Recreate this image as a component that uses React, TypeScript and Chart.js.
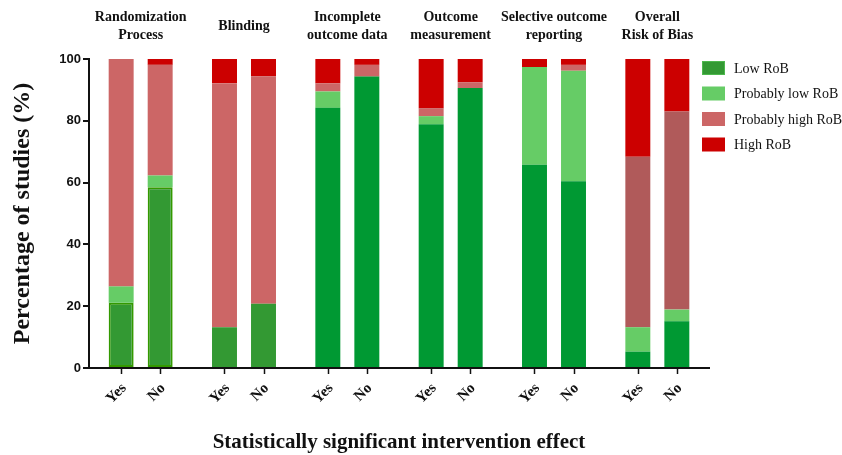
import React, { useEffect, useRef } from "react";
import { Chart, registerables } from "chart.js";

Chart.register(...registerables);

// ---- Data ----
const domains: string[][] = [
  ["Randomization", "Process"],
  ["Blinding"],
  ["Incomplete", "outcome data"],
  ["Outcome", "measurement"],
  ["Selective outcome", "reporting"],
  ["Overall", "Risk of Bias"],
];
const groupLabels = ["Yes", "No"];
const legendLabels = ["Low RoB", "Probably low RoB", "Probably high RoB", "High RoB"];

// Significant effect = Yes
const yesLow = [21.1, 13.2, 84.2, 78.9, 65.8, 5.3];
const yesProbLow = [5.3, 0, 5.3, 2.6, 31.6, 7.9];
const yesProbHigh = [73.6, 78.9, 2.6, 2.6, 0, 55.2];
const yesHigh = [0, 7.9, 7.9, 15.9, 2.6, 31.6];
// Significant effect = No
const noLow = [58.5, 20.8, 94.3, 90.6, 60.4, 15.1];
const noProbLow = [3.8, 0, 0, 0, 35.8, 3.8];
const noProbHigh = [35.8, 73.6, 3.8, 1.9, 1.9, 64.1];
const noHigh = [1.9, 5.6, 1.9, 7.5, 1.9, 17.0];

const yTicks = [0, 20, 40, 60, 80, 100];

// ---- Styles ----
const SERIF = '"Liberation Serif", "Times New Roman", serif';
const SANS = '"Liberation Sans", Arial, sans-serif';
const cLowDark = "#339933";
const cLow = "#009933";
const cLowBorder = "#339900";
const cProbLow = "#66CC66";
const cProbHigh = "#CC6666";
const cProbHighOverall = "#B05A5A";
const cHigh = "#CC0000";
const legendColors = [cLowDark, cProbLow, cProbHigh, cHigh];

const lowColors = [cLowDark, cLowDark, cLow, cLow, cLow, cLow];
const lowBorders = [cLowBorder, cLowDark, cLow, cLow, cLow, cLow];
const lowBorderW = [2, 0, 0, 0, 0, 0];
const probHighColors = [cProbHigh, cProbHigh, cProbHigh, cProbHigh, cProbHigh, cProbHighOverall];

function makeSets(stack: string, low: number[], pl: number[], ph: number[], hi: number[]) {
  return [
    { label: legendLabels[0], stack, data: low, backgroundColor: lowColors, borderColor: lowBorders, borderWidth: lowBorderW, borderSkipped: false },
    { label: legendLabels[1], stack, data: pl, backgroundColor: cProbLow, borderWidth: 0 },
    { label: legendLabels[2], stack, data: ph, backgroundColor: probHighColors, borderWidth: 0 },
    { label: legendLabels[3], stack, data: hi, backgroundColor: cHigh, borderWidth: 0 },
  ];
}

const overlayPlugin = {
  id: "overlay",
  afterDraw(chart: any) {
    const ctx = chart.ctx;
    const xs = chart.scales.x;
    const area = chart.chartArea;
    ctx.save();
    // Domain titles on top
    ctx.fillStyle = "#111";
    ctx.font = `bold 14px ${SERIF}`;
    ctx.textAlign = "center";
    ctx.textBaseline = "middle";
    domains.forEach((lines, i) => {
      const x = xs.getPixelForValue(i);
      const n = lines.length;
      lines.forEach((t, j) => {
        ctx.fillText(t, x, 26 + (j - (n - 1) / 2) * 18);
      });
    });
    // Yes / No tick marks and labels
    const metaYes = chart.getDatasetMeta(0);
    const metaNo = chart.getDatasetMeta(4);
    ctx.font = `bold 15px ${SERIF}`;
    ctx.textAlign = "right";
    ctx.textBaseline = "middle";
    ctx.strokeStyle = "#111";
    ctx.lineWidth = 1.5;
    [metaYes, metaNo].forEach((meta, g) => {
      meta.data.forEach((bar: any) => {
        const x = Math.round(bar.x) + 0.5;
        ctx.beginPath();
        ctx.moveTo(x, area.bottom);
        ctx.lineTo(x, area.bottom + 6);
        ctx.stroke();
        ctx.save();
        ctx.translate(bar.x + 3, area.bottom + 18);
        ctx.rotate(-Math.PI / 4);
        ctx.fillText(groupLabels[g], 0, 0);
        ctx.restore();
      });
    });
    // Legend
    ctx.font = `14px ${SERIF}`;
    ctx.textAlign = "left";
    legendLabels.forEach((t, k) => {
      const cy = 68 + k * 25.5;
      ctx.fillStyle = legendColors[k];
      ctx.fillRect(702, cy - 7, 23, 14);
      if (k === 0) {
        ctx.strokeStyle = "#4DB84D";
        ctx.lineWidth = 1;
        ctx.strokeRect(702.5, cy - 6.5, 22, 13);
      }
      ctx.fillStyle = "#111";
      ctx.fillText(t, 734, cy + 1);
    });
    ctx.restore();
  },
};

export default function App() {
  const ref = useRef<HTMLCanvasElement | null>(null);
  useEffect(() => {
    if (!ref.current) return;
    const chart = new Chart(ref.current, {
      type: "bar",
      data: {
        labels: domains.map((d) => d.join(" ")),
        datasets: [
          ...makeSets("Yes", yesLow, yesProbLow, yesProbHigh, yesHigh),
          ...makeSets("No", noLow, noProbLow, noProbHigh, noHigh),
        ] as any,
      },
      options: {
        responsive: false,
        animation: false,
        devicePixelRatio: 1,
        layout: { padding: { top: 59, right: 133, left: 0, bottom: 0 } },
        datasets: { bar: { categoryPercentage: 0.755, barPercentage: 0.64 } },
        plugins: { legend: { display: false }, tooltip: { enabled: false } },
        scales: {
          x: {
            stacked: true,
            grid: { display: false },
            border: { display: true, color: "#111", width: 2 },
            ticks: { display: false },
            title: {
              display: true,
              text: "Statistically significant intervention effect",
              color: "#111",
              font: { family: SERIF, size: 21, weight: "bold" },
              padding: { top: 0, bottom: 0 },
            },
            afterFit: (s: any) => {
              s.height = 87;
            },
          },
          y: {
            stacked: true,
            min: 0,
            max: 100,
            afterBuildTicks: (s: any) => {
              s.ticks = yTicks.map((v) => ({ value: v }));
            },
            grid: { display: true, drawOnChartArea: false, drawTicks: true, tickLength: 6, color: "#111", lineWidth: 2 },
            border: { display: true, color: "#111", width: 2 },
            ticks: { color: "#111", padding: 2, font: { family: SANS, size: 13, weight: "bold" } },
            title: {
              display: true,
              text: "Percentage of studies (%)",
              color: "#111",
              font: { family: SERIF, size: 24, weight: "bold" },
              padding: { top: 8, bottom: 0 },
            },
            afterFit: (s: any) => {
              s.width = 89;
            },
          },
        },
      },
      plugins: [overlayPlugin],
    });
    return () => chart.destroy();
  }, []);
  return (
    <div style={{ position: "absolute", left: 0, top: 0, width: 842, height: 455, background: "#fff" }}>
      <canvas ref={ref} width={842} height={455} />
    </div>
  );
}
